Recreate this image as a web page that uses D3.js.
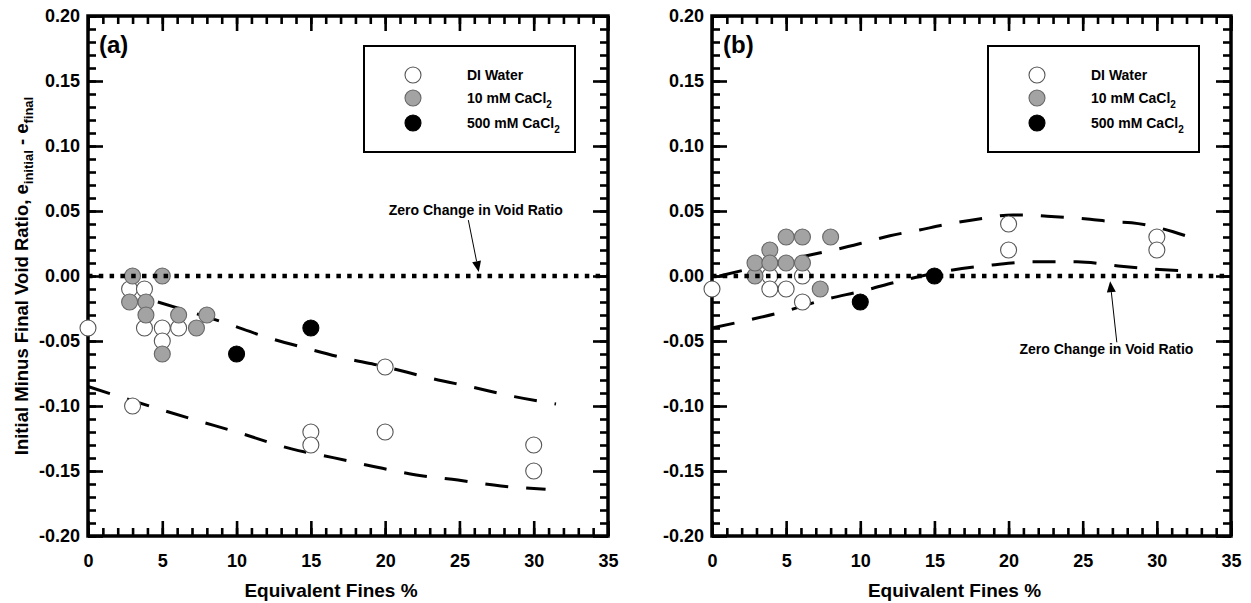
<!DOCTYPE html>
<html>
<head>
<meta charset="utf-8">
<script src="https://cdn.jsdelivr.net/npm/d3@7"></script>
<style>
  body { margin: 0; background: #fff; }
  svg { display: block; }
  text { font-family: "Liberation Sans", Arial, sans-serif; font-weight: bold; fill: #000; }
</style>
</head>
<body>
<svg id="chart" width="1251" height="603"></svg>
<script>
// ---- Axis ticks ----
const xMajorTicks = [0, 5, 10, 15, 20, 25, 30, 35];
const xTickLabels = ["0", "5", "10", "15", "20", "25", "30", "35"];
const yMajorTicks = [-0.20, -0.15, -0.10, -0.05, 0.00, 0.05, 0.10, 0.15, 0.20];
const yTickLabels = ["-0.20", "-0.15", "-0.10", "-0.05", "0.00", "0.05", "0.10", "0.15", "0.20"];

// ---- Panel (a) measurements ----
const aWaterX = [0, 2.8, 3.8, 3.8, 5, 6.1, 5, 3, 15, 15, 20, 20, 30, 30];
const aWaterY = [-0.04, -0.01, -0.01, -0.04, -0.04, -0.04, -0.05, -0.10, -0.12, -0.13, -0.07, -0.12, -0.13, -0.15];
const aCa10X = [3, 5, 2.8, 3.9, 3.9, 6.1, 8, 7.3, 5];
const aCa10Y = [0, 0, -0.02, -0.02, -0.03, -0.03, -0.03, -0.04, -0.06];
const aCa500X = [10, 15];
const aCa500Y = [-0.06, -0.04];

// Envelope curves, panel (a)
const aUpperX = [4.7, 9.2, 12, 14.7, 17.5, 19.7, 23.1, 25.9, 28.7, 31.5];
const aUpperY = [-0.020, -0.036, -0.047, -0.0556, -0.0638, -0.069, -0.0787, -0.0856, -0.0928, -0.0985];
const aLowerX = [0, 3, 7, 10, 13.7, 16.5, 19.3, 22.1, 24.9, 27.8, 30.8];
const aLowerY = [-0.085, -0.096, -0.110, -0.120, -0.133, -0.1397, -0.1467, -0.153, -0.157, -0.1615, -0.164];

// ---- Panel (b) measurements ----
const bWaterX = [0, 3.9, 6.1, 3.9, 5, 6.1, 20, 20, 30, 30];
const bWaterY = [-0.01, 0, 0, -0.01, -0.01, -0.02, 0.04, 0.02, 0.03, 0.02];
const bCa10X = [2.9, 2.9, 3.9, 3.9, 5, 6.1, 8, 5, 6.1, 7.3];
const bCa10Y = [0, 0.01, 0.02, 0.01, 0.03, 0.03, 0.03, 0.01, 0.01, -0.01];
const bCa500X = [10, 15];
const bCa500Y = [-0.02, 0];

// Envelope curves, panel (b)
const bUpperX = [0.5, 6.3, 8.4, 10, 12, 14, 15.5, 18.3, 20.3, 21.2, 22.6, 24.1, 25.5, 27, 28.3, 29.8, 31.1, 32.2];
const bUpperY = [0.0, 0.0154, 0.0205, 0.025, 0.031, 0.0354, 0.039, 0.0444, 0.047, 0.047, 0.046, 0.045, 0.0436, 0.0418, 0.041, 0.038, 0.034, 0.030];
const bLowerX = [0, 2, 4.8, 7.5, 10.4, 12.5, 15.9, 18.9, 21.7, 24.6, 27.4, 30.2, 31.7];
const bLowerY = [-0.040, -0.035, -0.0275, -0.0185, -0.0108, -0.0044, 0.004, 0.0085, 0.011, 0.011, 0.0077, 0.005, 0.004];

// ---- Legend ----
const legendLabels = ["DI Water", "10 mM CaCl", "500 mM CaCl"];
const legendSubs = ["", "2", "2"];
const seriesFill = ["#ffffff", "#a3a3a3", "#000000"];
const seriesStroke = ["#555555", "#666666", "#000000"];

const svg = d3.select("#chart");
const zip = (xs, ys) => xs.map((x, i) => ({ x, y: ys[i] }));

const y = d3.scaleLinear().domain([-0.2, 0.2]).range([536, 16]);

function drawPanel(opts) {
  const x = d3.scaleLinear().domain([0, 35]).range(opts.range);
  const g = svg.append("g");
  const [x0, x1] = opts.range;
  const [yb, yt] = y.range();

  // minor / major ticks, all four sides, pointing inward
  const minorX = d3.range(0, 36, 1);
  const minorY = d3.range(-20, 21, 1).map(v => v / 100);
  const tickStyle = sel => {
    sel.select(".domain").remove();
    sel.selectAll(".tick line").attr("stroke", "#000").attr("stroke-width", 2.6);
  };
  g.append("g").attr("transform", `translate(0,${yb})`)
    .call(d3.axisBottom(x).tickValues(minorX).tickSize(-8).tickFormat(""))
    .call(tickStyle);
  g.append("g").attr("transform", `translate(0,${yt})`)
    .call(d3.axisTop(x).tickValues(minorX).tickSize(-8).tickFormat(""))
    .call(tickStyle);
  g.append("g").attr("transform", `translate(${x0},0)`)
    .call(d3.axisLeft(y).tickValues(minorY).tickSize(-8).tickFormat(""))
    .call(tickStyle);
  g.append("g").attr("transform", `translate(${x1},0)`)
    .call(d3.axisRight(y).tickValues(minorY).tickSize(-8).tickFormat(""))
    .call(tickStyle);

  const bottom = g.append("g").attr("transform", `translate(0,${yb})`)
    .call(d3.axisBottom(x).tickValues(xMajorTicks).tickSize(-15).tickPadding(18)
      .tickFormat((d, i) => xTickLabels[i]))
    .call(tickStyle);
  bottom.selectAll(".tick text").attr("font-size", 18).attr("font-family", null).attr("fill", "#000");
  g.append("g").attr("transform", `translate(0,${yt})`)
    .call(d3.axisTop(x).tickValues(xMajorTicks).tickSize(-15).tickFormat(""))
    .call(tickStyle);
  const left = g.append("g").attr("transform", `translate(${x0},0)`)
    .call(d3.axisLeft(y).tickValues(yMajorTicks).tickSize(-15).tickPadding(8)
      .tickFormat((d, i) => yTickLabels[i]))
    .call(tickStyle);
  left.selectAll(".tick text").attr("font-size", 18).attr("font-family", null).attr("fill", "#000");
  g.append("g").attr("transform", `translate(${x1},0)`)
    .call(d3.axisRight(y).tickValues(yMajorTicks).tickSize(-15).tickFormat(""))
    .call(tickStyle);

  // frame
  g.append("rect").attr("x", x0).attr("y", yt).attr("width", x1 - x0).attr("height", yb - yt)
    .attr("fill", "none").attr("stroke", "#000").attr("stroke-width", 3.5);

  // dashed envelopes
  const line = d3.line().x(d => x(d.x)).y(d => y(d.y)).curve(d3.curveMonotoneX);
  opts.curves.forEach(c => {
    g.append("path").datum(c).attr("d", line)
      .attr("fill", "none").attr("stroke", "#000").attr("stroke-width", 3)
      .attr("stroke-dasharray", "23,18");
  });

  // data points
  opts.series.forEach((s, k) => {
    g.append("g").selectAll("circle").data(s).join("circle")
      .attr("cx", d => x(d.x)).attr("cy", d => y(d.y)).attr("r", 8)
      .attr("fill", seriesFill[k]).attr("stroke", seriesStroke[k]).attr("stroke-width", 1.1);
  });

  // zero reference line
  g.append("path").datum([{ x: 0, y: 0 }, { x: 35, y: 0 }]).attr("d", d3.line().x(d => x(d.x)).y(d => y(d.y)))
    .attr("stroke", "#000").attr("stroke-width", 4.5).attr("stroke-dasharray", "4.5,6.3");

  // annotation
  const a = opts.note;
  g.append("text").attr("x", x(a.tx)).attr("y", y(a.ty)).attr("text-anchor", "middle")
    .attr("font-size", 14).text("Zero Change in Void Ratio");
  const tx0 = x(a.from[0]), ty0 = y(a.from[1]), tx1 = x(a.to[0]), ty1 = y(a.to[1]);
  const ang = Math.atan2(ty1 - ty0, tx1 - tx0);
  const hl = 11, hw = 4.5;
  const bx = tx1 - hl * Math.cos(ang), by = ty1 - hl * Math.sin(ang);
  g.append("line").attr("x1", tx0).attr("y1", ty0).attr("x2", bx).attr("y2", by)
    .attr("stroke", "#000").attr("stroke-width", 1);
  g.append("path").attr("d",
    `M${tx1},${ty1}L${bx + hw * Math.sin(ang)},${by - hw * Math.cos(ang)}L${bx - hw * Math.sin(ang)},${by + hw * Math.cos(ang)}Z`)
    .attr("fill", "#000");

  // panel tag
  g.append("text").attr("x", x0 + 11).attr("y", yt + 37).attr("font-size", 24).text(opts.tag);

  // legend
  const lg = g.append("g");
  lg.append("rect").attr("x", opts.legend[0]).attr("y", 46).attr("width", 211).attr("height", 106)
    .attr("fill", "#fff").attr("stroke", "#000").attr("stroke-width", 2);
  const rows = [75, 98, 123];
  legendLabels.forEach((lab, k) => {
    lg.append("circle").attr("cx", opts.legend[0] + 49).attr("cy", rows[k]).attr("r", 8)
      .attr("fill", seriesFill[k]).attr("stroke", seriesStroke[k]).attr("stroke-width", 1.1);
    const t = lg.append("text").attr("x", opts.legend[0] + 103).attr("y", rows[k] + 5)
      .attr("font-size", 14).text(lab);
    if (legendSubs[k]) t.append("tspan").attr("font-size", 10).attr("dy", 5).text(legendSubs[k]);
  });

  // x axis title
  g.append("text").attr("x", (x0 + x1) / 2 - 17).attr("y", 597).attr("text-anchor", "middle")
    .attr("font-size", 19).text("Equivalent Fines %");
}

drawPanel({
  range: [88, 608], tag: "(a)", legend: [364],
  curves: [zip(aUpperX, aUpperY), zip(aLowerX, aLowerY)],
  series: [zip(aWaterX, aWaterY), zip(aCa10X, aCa10Y), zip(aCa500X, aCa500Y)],
  note: { tx: 26.1, ty: 0.047, from: [25.6, 0.043], to: [26.3, 0.003] }
});
drawPanel({
  range: [712, 1231], tag: "(b)", legend: [988],
  curves: [zip(bUpperX, bUpperY), zip(bLowerX, bLowerY)],
  series: [zip(bWaterX, bWaterY), zip(bCa10X, bCa10Y), zip(bCa500X, bCa500Y)],
  note: { tx: 26.6, ty: -0.060, from: [27.3, -0.051], to: [26.85, -0.004] }
});

// y axis title
const yTitle = svg.append("text").attr("transform", "translate(28,276) rotate(-90)")
  .attr("text-anchor", "middle").attr("font-size", 18.5);
yTitle.append("tspan").text("Initial Minus Final Void Ratio, e");
yTitle.append("tspan").attr("font-size", 13).attr("dy", 5).text("initial");
yTitle.append("tspan").attr("dy", -5).text(" - e");
yTitle.append("tspan").attr("font-size", 13).attr("dy", 5).text("final");
</script>
</body>
</html>
